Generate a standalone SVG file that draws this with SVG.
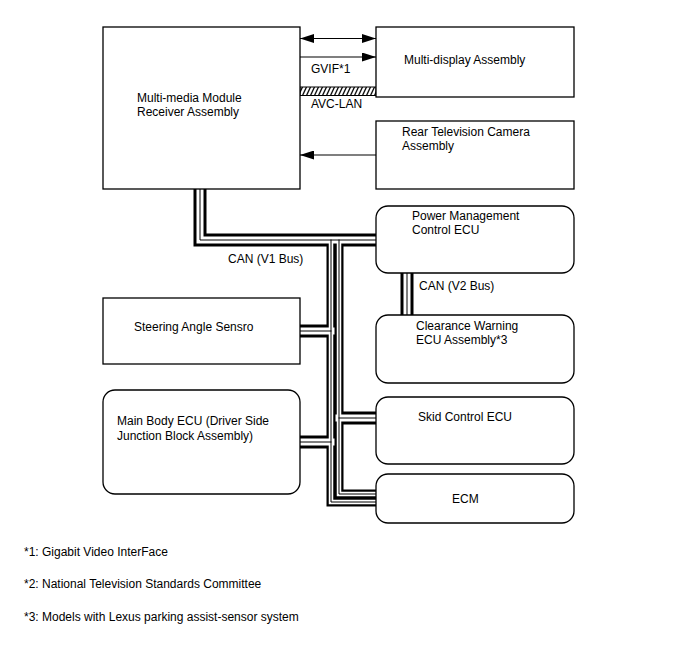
<svg xmlns="http://www.w3.org/2000/svg" width="688" height="658" viewBox="0 0 688 658">
<style>
text{font-family:"Liberation Sans",Arial,sans-serif;font-size:12px;fill:#000}
.box{fill:#fff;stroke:#000;stroke-width:1.3}
.wire{fill:none;stroke:#000;stroke-width:1.2}
.bk{fill:none;stroke:#000;stroke-width:13;stroke-linejoin:miter;stroke-linecap:butt}
.wh{fill:none;stroke:#fff;stroke-width:7;stroke-linejoin:miter;stroke-linecap:square}
.th{fill:none;stroke:#000;stroke-width:1;stroke-linejoin:miter;stroke-linecap:square}
.bk2{fill:none;stroke:#000;stroke-width:9;stroke-linejoin:miter}
.wh2{fill:none;stroke:#fff;stroke-width:4.5;stroke-linejoin:miter;stroke-linecap:square}
</style>
<defs>
<marker id="ah" viewBox="0 0 14 9" refX="14" refY="4.5" markerWidth="14" markerHeight="9" markerUnits="userSpaceOnUse" orient="auto-start-reverse">
<path d="M0,0 L14,4.5 L0,9 z" fill="#000"/>
</marker>
<pattern id="hatch" patternUnits="userSpaceOnUse" width="4" height="8.5" y="87">
<rect width="4" height="8.5" fill="#fff"/>
<path d="M-1.5,8.5 L2.5,0 M2.5,8.5 L6.5,0" stroke="#000" stroke-width="1.3"/>
</pattern>
<path id="b1" d="M200,189 V240 H376"/>
<path id="bv2" d="M407,273 V315"/>
<path id="bst" d="M300,331 H331"/>
<path id="bmb" d="M300,442 H331"/>
<path id="bsk" d="M339,418 H376"/>
<path id="tl" d="M331,240 V502 H376"/>
<path id="tr" d="M339,240 V494 H376"/>
</defs>

<g id="connectors">
<line class="wire" x1="300" y1="38.5" x2="376" y2="38.5" marker-start="url(#ah)" marker-end="url(#ah)"/>
<line class="wire" x1="300" y1="57" x2="376" y2="57" marker-end="url(#ah)"/>
<rect x="300" y="87" width="76" height="8.5" fill="url(#hatch)" stroke="#000" stroke-width="1"/>
<line class="wire" x1="376" y1="155" x2="300" y2="155" marker-end="url(#ah)"/>
<g id="can-bus">
<use href="#b1" class="bk"/><use href="#bv2" class="bk"/><use href="#bst" class="bk"/><use href="#bmb" class="bk"/><use href="#bsk" class="bk"/>
<use href="#tl" class="bk2"/><use href="#tr" class="bk2"/>
<use href="#b1" class="wh"/><use href="#bv2" class="wh"/><use href="#bst" class="wh"/><use href="#bmb" class="wh"/><use href="#bsk" class="wh"/>
<use href="#tl" class="wh2"/><use href="#tr" class="wh2"/>
<use href="#b1" class="th"/><use href="#bv2" class="th"/><use href="#bst" class="th"/><use href="#bmb" class="th"/><use href="#bsk" class="th"/>
<use href="#tl" class="th"/><use href="#tr" class="th"/>
</g>
<text x="311" y="73">GVIF*1</text>
<text x="311" y="108">AVC-LAN</text>
<text x="228" y="263">CAN (V1 Bus)</text>
<text x="419" y="290">CAN (V2 Bus)</text>
</g>

<g id="mmr">
<rect class="box" x="103" y="27" width="197" height="162"/>
<text x="137" y="102">Multi-media Module</text>
<text x="137" y="116">Receiver Assembly</text>
</g>
<g id="multi-display">
<rect class="box" x="376" y="27" width="198" height="70"/>
<text x="404" y="64">Multi-display Assembly</text>
</g>
<g id="rear-camera">
<rect class="box" x="376" y="121" width="198" height="68"/>
<text x="402" y="136">Rear Television Camera</text>
<text x="402" y="150">Assembly</text>
</g>
<g id="power-mgmt">
<rect class="box" x="376" y="206" width="198" height="67" rx="12"/>
<text x="412" y="220">Power Management</text>
<text x="412" y="234">Control ECU</text>
</g>
<g id="clearance">
<rect class="box" x="376" y="315" width="198" height="68" rx="12"/>
<text x="416" y="330">Clearance Warning</text>
<text x="416" y="344">ECU Assembly*3</text>
</g>
<g id="steering">
<rect class="box" x="103" y="298" width="197" height="66"/>
<text x="134" y="331">Steering Angle Sensro</text>
</g>
<g id="main-body">
<rect class="box" x="103" y="390" width="197" height="104" rx="12"/>
<text x="117" y="425">Main Body ECU (Driver Side</text>
<text x="117" y="440">Junction Block Assembly)</text>
</g>
<g id="skid">
<rect class="box" x="376" y="397" width="198" height="67" rx="12"/>
<text x="418" y="421">Skid Control ECU</text>
</g>
<g id="ecm">
<rect class="box" x="376" y="474" width="198" height="49" rx="12"/>
<text x="452" y="503">ECM</text>
</g>
<g id="notes">
<text x="24" y="556">*1: Gigabit Video InterFace</text>
<text x="24" y="588">*2: National Television Standards Committee</text>
<text x="24" y="621">*3: Models with Lexus parking assist-sensor system</text>
</g>
</svg>
